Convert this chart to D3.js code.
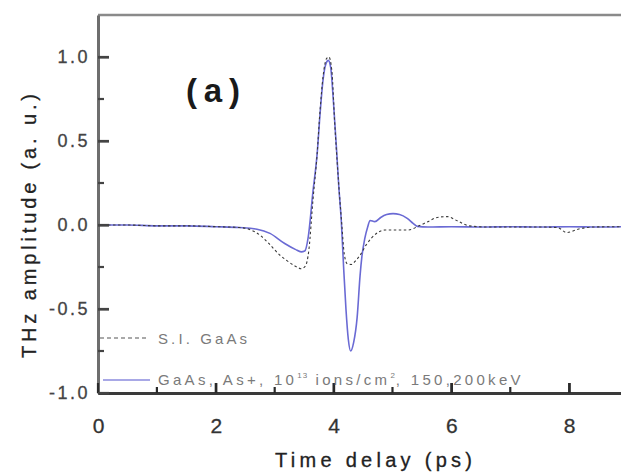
<!DOCTYPE html>
<html>
<head>
<meta charset="utf-8">
<script src="https://cdn.jsdelivr.net/npm/d3@7"></script>
<style>
  html, body { margin: 0; padding: 0; background: #fff; }
  svg { display: block; font-family: "Liberation Sans", Arial, sans-serif; }
</style>
</head>
<body>
<svg id="chart" width="621" height="472"></svg>
<script>
// ---- Data ----
const timeSI = [0, 0.5, 1.0, 1.5, 2.0, 2.4, 2.6, 2.75, 2.9, 3.09, 3.2, 3.35, 3.45, 3.52, 3.58, 3.65, 3.72, 3.77, 3.82, 3.88, 3.92, 3.97, 4.02, 4.06, 4.10, 4.14, 4.18, 4.23, 4.30, 4.38, 4.45, 4.55, 4.65, 4.75, 4.87, 5.0, 5.26, 5.45, 5.6, 5.76, 5.93, 6.1, 6.3, 6.6, 7.0, 7.5, 7.8, 7.96, 8.15, 8.4, 8.88];
const valueSI = [0, 0, -0.005, -0.005, -0.01, -0.015, -0.03, -0.06, -0.11, -0.18, -0.21, -0.245, -0.26, -0.245, -0.15, 0.15, 0.42, 0.68, 0.88, 0.99, 1.0, 0.92, 0.6, 0.38, 0.18, 0.0, -0.17, -0.23, -0.235, -0.21, -0.18, -0.12, -0.075, -0.045, -0.03, -0.03, -0.03, -0.005, 0.02, 0.045, 0.05, 0.025, -0.005, -0.012, -0.012, -0.012, -0.015, -0.045, -0.025, -0.012, -0.01];

const timeImpl = [0, 0.5, 1.0, 1.5, 2.0, 2.4, 2.7, 2.92, 3.17, 3.35, 3.45, 3.51, 3.57, 3.65, 3.72, 3.77, 3.82, 3.87, 3.91, 3.95, 4.0, 4.05, 4.09, 4.13, 4.17, 4.21, 4.25, 4.29, 4.34, 4.40, 4.45, 4.48, 4.53, 4.58, 4.62, 4.70, 4.80, 4.90, 5.01, 5.12, 5.25, 5.35, 5.42, 5.6, 6.0, 6.5, 7.0, 7.5, 8.0, 8.5, 8.88];
const valueImpl = [0, 0, -0.005, -0.005, -0.01, -0.015, -0.025, -0.05, -0.11, -0.145, -0.16, -0.155, -0.07, 0.2, 0.42, 0.66, 0.86, 0.96, 0.98, 0.94, 0.72, 0.45, 0.22, 0.03, -0.25, -0.5, -0.68, -0.75, -0.70, -0.55, -0.30, -0.19, -0.08, -0.01, 0.027, 0.02, 0.045, 0.062, 0.068, 0.063, 0.04, 0.01, -0.008, -0.012, -0.01, -0.012, -0.01, -0.012, -0.01, -0.012, -0.01];

const xMajorTicks = [0, 2, 4, 6, 8];
const xMinorTicks = [1, 3, 5, 7];
const yMajorTicks = [-1.0, -0.5, 0.0, 0.5, 1.0];
const yMinorTicks = [-0.75, -0.25, 0.25, 0.75];

const xTitle = "Time delay (ps)";
const yTitle = "THz amplitude (a. u.)";
const panelLabel = "(a)";
const legendSI = "S.I. GaAs";

// ---- Layout ----
const svg = d3.select("#chart");
const mLeft = 98, mRight = 621, mTop = 15, mBottom = 393;

const x = d3.scaleLinear().domain([0, 8.88]).range([mLeft, mRight]);
const y = d3.scaleLinear().domain([-1.0, 1.25]).range([mBottom, mTop]);

// Top border
svg.append("line")
  .attr("x1", mLeft).attr("x2", mRight).attr("y1", mTop).attr("y2", mTop)
  .attr("stroke", "#8a8a8a").attr("stroke-width", 2.5);

// Curves
const lineSI = d3.line().x((d, i) => x(timeSI[i])).y(d => y(d)).curve(d3.curveMonotoneX);
const lineImpl = d3.line().x((d, i) => x(timeImpl[i])).y(d => y(d)).curve(d3.curveMonotoneX);

svg.append("path").attr("d", lineImpl(valueImpl))
  .attr("fill", "none").attr("stroke", "#6a6ad4").attr("stroke-width", 1.6);
svg.append("path").attr("d", lineSI(valueSI))
  .attr("fill", "none").attr("stroke", "#3a3a3a").attr("stroke-width", 1.1)
  .attr("stroke-dasharray", "2.5,2.5");

// X axis
const gx = svg.append("g").attr("transform", `translate(0,${mBottom})`)
  .call(d3.axisBottom(x).tickValues(xMajorTicks).tickSizeInner(-10).tickSizeOuter(0)
    .tickPadding(25).tickFormat(d => String(d)));
gx.select(".domain").attr("stroke", "#3a3a3a").attr("stroke-width", 3);
gx.selectAll(".tick line").attr("stroke", "#2a2a2a").attr("stroke-width", 2.2);
gx.selectAll(".tick text").attr("font-size", 21).attr("fill", "#333")
  .attr("stroke", "#333").attr("stroke-width", 0.3)
  .attr("font-family", "Liberation Sans, Arial, sans-serif");

// Y axis
const gy = svg.append("g").attr("transform", `translate(${mLeft},0)`)
  .call(d3.axisLeft(y).tickValues(yMajorTicks).tickSizeInner(-11).tickSizeOuter(0)
    .tickPadding(8).tickFormat(d => d.toFixed(1)));
gy.select(".domain").attr("stroke", "#6e6e6e").attr("stroke-width", 3);
gy.selectAll(".tick line").attr("stroke", "#444").attr("stroke-width", 2.2);
gy.selectAll(".tick text").attr("font-size", 18).attr("fill", "#444")
  .attr("stroke", "#444").attr("stroke-width", 0.3)
  .attr("letter-spacing", 2.5)
  .attr("font-family", "Liberation Sans, Arial, sans-serif");

// Tick marks (inward), positioned by the scales
const tickG = svg.append("g");
tickG.selectAll("line.xmaj").data(xMajorTicks).join("line").attr("class", "xmaj")
  .attr("x1", d => x(d)).attr("x2", d => x(d))
  .attr("y1", mBottom).attr("y2", mBottom - 10)
  .attr("stroke", "#2a2a2a").attr("stroke-width", 2.2);
tickG.selectAll("line.xmin").data(xMinorTicks).join("line").attr("class", "xmin")
  .attr("x1", d => x(d)).attr("x2", d => x(d))
  .attr("y1", mBottom).attr("y2", mBottom - 6)
  .attr("stroke", "#2a2a2a").attr("stroke-width", 2.2);
tickG.selectAll("line.ymaj").data(yMajorTicks).join("line").attr("class", "ymaj")
  .attr("x1", mLeft).attr("x2", mLeft + 11)
  .attr("y1", d => y(d)).attr("y2", d => y(d))
  .attr("stroke", "#444").attr("stroke-width", 2.2);
tickG.selectAll("line.ymin").data(yMinorTicks).join("line").attr("class", "ymin")
  .attr("x1", mLeft).attr("x2", mLeft + 6)
  .attr("y1", d => y(d)).attr("y2", d => y(d))
  .attr("stroke", "#444").attr("stroke-width", 2.2);

// Axis titles
svg.append("text").text(xTitle)
  .attr("x", 275).attr("y", 467)
  .attr("font-size", 20).attr("fill", "#222")
  .attr("stroke", "#222").attr("stroke-width", 0.3)
  .attr("textLength", 197).attr("lengthAdjust", "spacing");

svg.append("text").text(yTitle)
  .attr("transform", "translate(36,358) rotate(-90)")
  .attr("font-size", 20).attr("fill", "#222")
  .attr("stroke", "#222").attr("stroke-width", 0.3)
  .attr("textLength", 264).attr("lengthAdjust", "spacing");

// Panel label
svg.append("text").text(panelLabel)
  .attr("x", 186).attr("y", 102)
  .attr("font-size", 33).attr("font-weight", "bold").attr("fill", "#1a1a1a")
  .attr("textLength", 54).attr("lengthAdjust", "spacing");

// Legend
svg.append("line").attr("x1", 100).attr("x2", 148).attr("y1", 338).attr("y2", 338)
  .attr("stroke", "#555").attr("stroke-width", 1.1).attr("stroke-dasharray", "4,3");
svg.append("text").text(legendSI)
  .attr("x", 158).attr("y", 343.5)
  .attr("font-size", 15).attr("fill", "#7a7a7a")
  .attr("textLength", 89).attr("lengthAdjust", "spacing");

svg.append("line").attr("x1", 103).attr("x2", 150).attr("y1", 380).attr("y2", 380)
  .attr("stroke", "#a8a8e6").attr("stroke-width", 2);
const lt = svg.append("text").attr("x", 158).attr("y", 385)
  .attr("font-size", 15).attr("fill", "#7a7a7a").attr("letter-spacing", 3.3);
lt.append("tspan").text("GaAs, As+, 10");
lt.append("tspan").text("13").attr("font-size", 8).attr("dy", -7).attr("letter-spacing", 1);
lt.append("tspan").text(" ions/cm").attr("dy", 7);
lt.append("tspan").text("2").attr("font-size", 8).attr("dy", -7).attr("letter-spacing", 1);
lt.append("tspan").text(", 150,200keV").attr("dy", 7);
</script>
</body>
</html>
